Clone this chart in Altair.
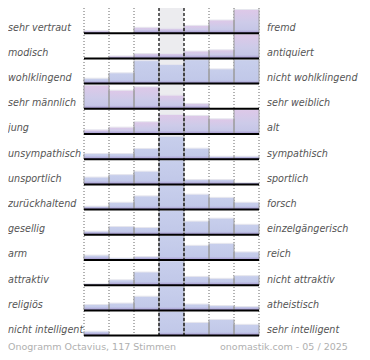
import altair as alt
import pandas as pd

left_labels = ["sehr vertraut", "modisch", "wohlklingend", "sehr männlich", "jung",
               "unsympathisch", "unsportlich", "zurückhaltend", "gesellig", "arm",
               "attraktiv", "religiös", "nicht intelligent"]
right_labels = ["fremd", "antiquiert", "nicht wohlklingend", "sehr weiblich", "alt",
                "sympathisch", "sportlich", "forsch", "einzelgängerisch", "reich",
                "nicht attraktiv", "atheistisch", "sehr intelligent"]
# bar heights per row, 7 steps, in percent of the tallest possible bar
values = [
    [10, 0, 24, 20, 32, 54, 97],
    [0, 10, 20, 20, 30, 35, 100],
    [22, 44, 94, 78, 98, 60, 98],
    [97, 76, 90, 56, 22, 0, 0],
    [17, 28, 50, 80, 76, 62, 100],
    [23, 23, 44, 94, 45, 12, 12],
    [30, 40, 54, 100, 20, 20, 8],
    [14, 30, 56, 100, 63, 50, 30],
    [15, 34, 30, 100, 56, 68, 43],
    [20, 8, 14, 100, 60, 68, 33],
    [6, 22, 54, 100, 36, 28, 39],
    [24, 30, 58, 100, 26, 20, 16],
    [18, 0, 0, 100, 54, 66, 46],
]
footer_left = "Onogramm Octavius, 117 Stimmen"
footer_right = "onomastik.com - 05 / 2025"
pink_rows = [0, 1, 3, 4]

W, H = 354, 344
P = 25.2          # row pitch in px
BIN = 25.0        # bin width in px
X0 = 76           # left edge of the grid in px
FULL = 0.97

nrows = len(values)
xdom = [-X0 / BIN, -X0 / BIN + W / BIN]
ydom = [0, H / P]
xs = alt.Scale(domain=xdom, nice=False, zero=False)
ys = alt.Scale(domain=ydom, nice=False, zero=False, reverse=True)

rows = []
for k, vals in enumerate(values):
    for i, v in enumerate(vals):
        if v <= 0:
            continue
        h = v / 100 * FULL
        rows.append(dict(row=k, x=i, xe=i + 1, base=k + 1, top=k + 1 - h,
                         strip=k + 1 - min(h, 0.14)))
bars = pd.DataFrame(rows)

edges = pd.concat([bars.assign(ex=bars["x"]), bars.assign(ex=bars["xe"])])

lab = pd.DataFrame(dict(row=list(range(nrows)), left=left_labels, right=right_labels,
                        ly=[k + 1 - 0.1 for k in range(nrows)]))
base_df = pd.DataFrame(dict(y=[k + 1 for k in range(nrows)], x=[0] * nrows, x2=[7] * nrows))
dotted = pd.DataFrame(dict(x=[0, 1, 2, 5, 6, 7], y=[0] * 6, y2=[nrows] * 6))
dashed = pd.DataFrame(dict(x=[3, 4], y=[0] * 2, y2=[nrows] * 2))
center = pd.DataFrame(dict(x=[3], x2=[4], y=[0], y2=[nrows]))

def grad(stops):
    return alt.LinearGradient(gradient="linear", x1=0, x2=0, y1=0, y2=1,
                              stops=[alt.GradientStop(offset=o, color=c) for o, c in stops])

pink_grad = grad([(0, "#dec8e8"), (0.55, "#cdcbe9"), (1, "#c2c4e6")])
blue_grad = grad([(0, "#c8cfec"), (1, "#c0c7e8")])
strip_grad = grad([(0, "rgba(168,150,206,0)"), (1, "rgba(150,128,196,0.85)")])

bg = alt.Chart(center).mark_rect(color="#ececef").encode(
    x=alt.X("x:Q", scale=xs, axis=None), x2="x2", y=alt.Y("y:Q", scale=ys, axis=None), y2="y2")

dots = alt.Chart(dotted).mark_rule(color="#666", strokeDash=[1, 2], strokeWidth=1).encode(
    x=alt.X("x:Q", scale=xs), y=alt.Y("y:Q", scale=ys), y2="y2")

pink_test = "indexof([" + ",".join(str(r) for r in pink_rows) + "], datum.row) >= 0"

bar_pink = alt.Chart(bars).transform_filter(pink_test).mark_bar(color=pink_grad).encode(
    x=alt.X("x:Q", scale=xs), x2="xe", y=alt.Y("base:Q", scale=ys), y2="top")
bar_blue = alt.Chart(bars).transform_filter("!(" + pink_test + ")").mark_bar(color=blue_grad).encode(
    x=alt.X("x:Q", scale=xs), x2="xe", y=alt.Y("base:Q", scale=ys), y2="top")
bar_top = alt.Chart(bars).mark_rule(color="#e6e6ee", strokeWidth=1).encode(
    x=alt.X("x:Q", scale=xs), x2="xe", y=alt.Y("top:Q", scale=ys))
bar_strip = alt.Chart(bars).mark_bar(color=strip_grad).encode(
    x=alt.X("x:Q", scale=xs), x2="xe", y=alt.Y("strip:Q", scale=ys), y2="base")
bar_edges = alt.Chart(edges).mark_rule(color="#9a9a9a", strokeWidth=1).encode(
    x=alt.X("ex:Q", scale=xs), y=alt.Y("base:Q", scale=ys), y2="top")

dash = alt.Chart(dashed).mark_rule(color="#000", strokeDash=[3, 2], strokeWidth=1.2).encode(
    x=alt.X("x:Q", scale=xs), y=alt.Y("y:Q", scale=ys), y2="y2")

baselines = alt.Chart(base_df).mark_rule(color="#000", strokeWidth=2).encode(
    x=alt.X("x:Q", scale=xs), x2="x2", y=alt.Y("y:Q", scale=ys))

font = "DejaVu Sans"
ltxt = alt.Chart(lab).mark_text(align="left", baseline="alphabetic", font=font, fontSize=9.6,
                                fontStyle="italic", color="#555").encode(
    x=alt.value(0), y=alt.Y("ly:Q", scale=ys), text="left:N")
rtxt = alt.Chart(lab).mark_text(align="left", baseline="alphabetic", font=font, fontSize=9.6,
                                fontStyle="italic", color="#555").encode(
    x=alt.value(259), y=alt.Y("ly:Q", scale=ys), text="right:N")

foot = pd.DataFrame(dict(t=[footer_left, footer_right], px=[0, 212]))
ftxt = alt.Chart(foot).mark_text(align="left", baseline="alphabetic", font=font, fontSize=9.5,
                                 color="#b0b0b0").encode(
    x=alt.X("px:Q", scale=None), y=alt.value(342), text="t:N")

chart = alt.layer(bg, dots, bar_pink, bar_blue, bar_strip, bar_top, bar_edges, dash,
                  baselines, ltxt, rtxt, ftxt).properties(
    width=W, height=H, padding=0, autosize=alt.AutoSizeParams(type="none")
).configure_view(strokeWidth=0)

chart.save("out.html", embed_options={"renderer": "svg", "actions": False})
